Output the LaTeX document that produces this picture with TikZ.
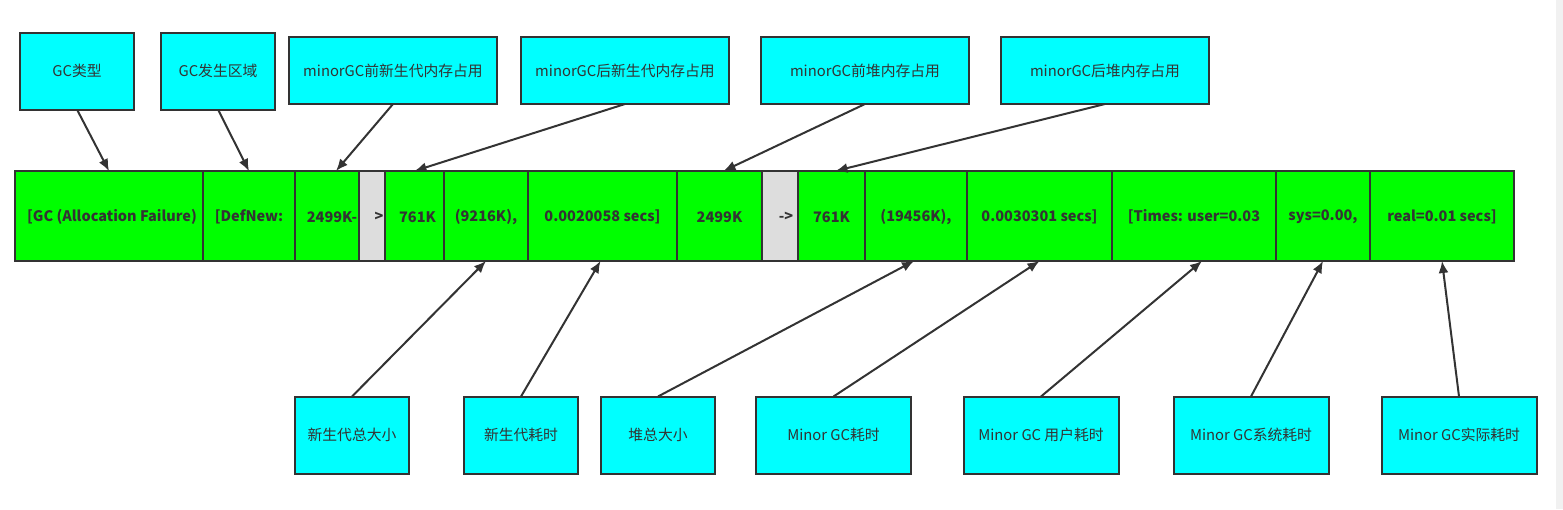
\documentclass[tikz,border=0pt]{standalone}
\usepackage{fontspec}
\setmainfont{Noto Sans CJK SC}
\usetikzlibrary{arrows.meta,calc}
\definecolor{edge}{HTML}{333333}
\definecolor{cyanbox}{HTML}{00FFFF}
\definecolor{greenbox}{HTML}{00FF00}
\definecolor{graybox}{HTML}{DDDDDD}
\definecolor{strip}{HTML}{F1F1F1}
\tikzset{
  lbl/.style={draw=edge, line width=2pt, fill=cyanbox, text=edge, inner sep=0pt, outer sep=0pt, font=\fontsize{14.8}{16}\selectfont},
  cell/.style={draw=edge, line width=2pt, fill=greenbox, minimum height=90pt, inner sep=0pt, outer sep=0pt},
  grcell/.style={cell, fill=graybox},
  celltxt/.style={text=edge, font=\fontsize{14.5}{16}\selectfont\bfseries, inner sep=0pt},
  arr/.style={draw=edge, line width=2pt, -{Latex[length=12pt,width=10pt]}}
}
\begin{document}
\begin{tikzpicture}[x=1pt,y=-1pt]
\useasboundingbox (0,0) rectangle (1563,509);
\fill[strip] (1556,0) rectangle (1563,509);
% top labels
\node[lbl, minimum width=114pt, minimum height=77pt] (t1) at (77,71) {GC类型};
\node[lbl, minimum width=114pt, minimum height=77pt] (t2) at (218,71) {GC发生区域};
\node[lbl, minimum width=208pt, minimum height=67pt] (t3) at (393,70.5) {minorGC前新生代内存占用};
\node[lbl, minimum width=208pt, minimum height=67pt] (t4) at (625,70.5) {minorGC后新生代内存占用};
\node[lbl, minimum width=208pt, minimum height=67pt] (t5) at (865,70.5) {minorGC前堆内存占用};
\node[lbl, minimum width=208pt, minimum height=67pt] (t6) at (1105,70.5) {minorGC后堆内存占用};
% bar cells
\node[cell, minimum width=188pt] (c1) at (109,216) {};
\node[cell, minimum width=92pt] (c2) at (249,216) {};
\node[cell, minimum width=64pt] (c3) at (327,216) {};
\node[grcell, minimum width=26pt] (c4) at (372,216) {};
\node[cell, minimum width=59pt] (c5) at (414.5,216) {};
\node[cell, minimum width=84pt] (c6) at (486,216) {};
\node[cell, minimum width=149pt] (c7) at (602.5,216) {};
\node[cell, minimum width=85pt] (c8) at (719.5,216) {};
\node[grcell, minimum width=36pt] (c9) at (780,216) {};
\node[cell, minimum width=67pt] (c10) at (831.5,216) {};
\node[cell, minimum width=102pt] (c11) at (916,216) {};
\node[cell, minimum width=145pt] (c12) at (1039.5,216) {};
\node[cell, minimum width=164pt] (c13) at (1194,216) {};
\node[cell, minimum width=94pt] (c14) at (1323,216) {};
\node[cell, minimum width=144pt] (c15) at (1442,216) {};
% cell texts
\node[celltxt] (x1) at ([xshift=3pt,yshift=-1pt]c1.center) {[GC (Allocation Failure)};
\node[celltxt] (x2) at ([yshift=-1pt]c2.center) {[DefNew:};
\node[celltxt] (x3) at ([xshift=5pt,yshift=-1pt]c3.center) {2499K-};
\node[celltxt] (x4) at ([xshift=7pt,yshift=-1pt]c4.center) {>};
\node[celltxt] (x5) at ([xshift=3pt,yshift=-1pt]c5.center) {761K};
\node[celltxt] (x6) at ([yshift=-1pt]c6.center) {(9216K),};
\node[celltxt] (x7) at ([yshift=-1pt]c7.center) {0.0020058 secs]};
\node[celltxt] (x8) at ([yshift=-1pt]c8.center) {2499K};
\node[celltxt] (x9) at ([xshift=6pt,yshift=-1pt]c9.center) {->};
\node[celltxt] (x10) at ([yshift=-1pt]c10.center) {761K};
\node[celltxt] (x11) at ([yshift=-1pt]c11.center) {(19456K),};
\node[celltxt] (x12) at ([yshift=-1pt]c12.center) {0.0030301 secs]};
\node[celltxt] (x13) at ([yshift=-1pt]c13.center) {[Times: user=0.03};
\node[celltxt] (x14) at ([yshift=-1pt]c14.center) {sys=0.00,};
\node[celltxt] (x15) at ([yshift=-1pt]c15.center) {real=0.01 secs]};
% bottom labels
\node[lbl, minimum width=114pt, minimum height=77pt] (b1) at (352,435) {新生代总大小};
\node[lbl, minimum width=114pt, minimum height=77pt] (b2) at (521,435) {新生代耗时};
\node[lbl, minimum width=114pt, minimum height=77pt] (b3) at (658,435) {堆总大小};
\node[lbl, minimum width=155pt, minimum height=77pt] (b4) at (833.5,435) {Minor GC耗时};
\node[lbl, minimum width=155pt, minimum height=77pt] (b5) at (1041,435) {Minor GC 用户耗时};
\node[lbl, minimum width=155pt, minimum height=77pt] (b6) at (1251,435) {Minor GC系统耗时};
\node[lbl, minimum width=155pt, minimum height=77pt] (b7) at (1459,435) {Minor GC实际耗时};
% arrows top
\draw[arr] (t1.south) -- (c1.north);
\draw[arr] (t2.south) -- (c2.north);
\draw[arr] (t3.south) -- ([xshift=9pt]c3.north);
\draw[arr] (t4.south) -- (c5.north);
\draw[arr] (t5.south) -- ([xshift=4pt]c8.north);
\draw[arr] (t6.south) -- ([xshift=4pt]c10.north);
% arrows bottom
\draw[arr] (b1.north) -- (c6.south);
\draw[arr] (b2.north) -- ([xshift=-2pt]c7.south);
\draw[arr] (b3.north) -- ([xshift=-2pt]c11.south);
\draw[arr] (b4.north) -- (c12.south);
\draw[arr] (b5.north) -- ([xshift=8pt]c13.south);
\draw[arr] (b6.north) -- (c14.south);
\draw[arr] (b7.north) -- (c15.south);
\end{tikzpicture}
\end{document}
